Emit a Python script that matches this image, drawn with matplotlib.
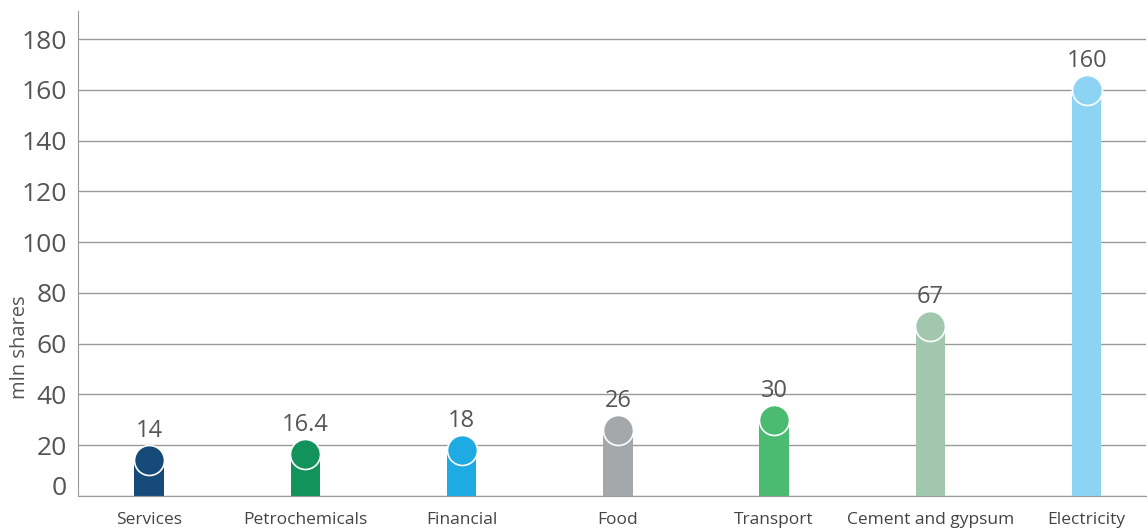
import matplotlib.pyplot as plt
import matplotlib.transforms as mtransforms
import numpy as np

sectors = ['Services', 'Petrochemicals', 'Financial', 'Food', 'Transport',
           'Cement and gypsum', 'Electricity']
shares = [14, 16.4, 18, 26, 30, 67, 160]
labels = ['14', '16.4', '18', '26', '30', '67', '160']
colors = ['#164b79', '#12935c', '#1eaae2', '#a4a8aa', '#4cbb72', '#a1c8ae', '#8dd3f3']
yticks = [0, 20, 40, 60, 80, 100, 120, 140, 160, 180]

plt.rcParams['font.family'] = ['Open Sans', 'DejaVu Sans']

fig = plt.figure(figsize=(11.48, 5.32), dpi=100)
ax = fig.add_axes([0.068, 0.068, 0.93, 0.911])

x = np.arange(len(sectors))
ax.bar(x, shares, width=0.19, color=colors, zorder=2)
for i in range(len(sectors)):
    ax.plot(x[i], shares[i], 'o', markersize=21.6, color=colors[i],
            markeredgecolor='white', markeredgewidth=1.2, zorder=3)
    ax.annotate(labels[i], (x[i], shares[i]), xytext=(0, 21), textcoords='offset points',
                ha='center', va='center', fontsize=17, color='#555555', zorder=4)

ax.set_xlim(-0.455, 6.378)
ax.set_ylim(0, 191)
ax.set_yticks(yticks)
ax.set_xticks(x)
ax.set_xticklabels(sectors, fontsize=12.5, color='#444444')
ax.tick_params(axis='both', length=0)
ax.tick_params(axis='y', labelsize=19, labelcolor='#555555', pad=8)
ax.tick_params(axis='x', pad=12)
ax.yaxis.grid(True, color='#999999', linewidth=1, zorder=0)
ax.set_axisbelow(True)

for side in ['top', 'right']:
    ax.spines[side].set_visible(False)
ax.spines['left'].set_color('#999999')
ax.spines['bottom'].set_color('#999999')

# the "0" label sits a little above the baseline
t0 = ax.get_yticklabels()[0]
t0.set_transform(t0.get_transform() + mtransforms.ScaledTranslation(0, 10 / 100, fig.dpi_scale_trans))

ax.set_ylabel('mln shares', fontsize=14.5, color='#555555')
ax.yaxis.set_label_coords(-0.045, 0.307)

fig.savefig('out.png', dpi=100)
